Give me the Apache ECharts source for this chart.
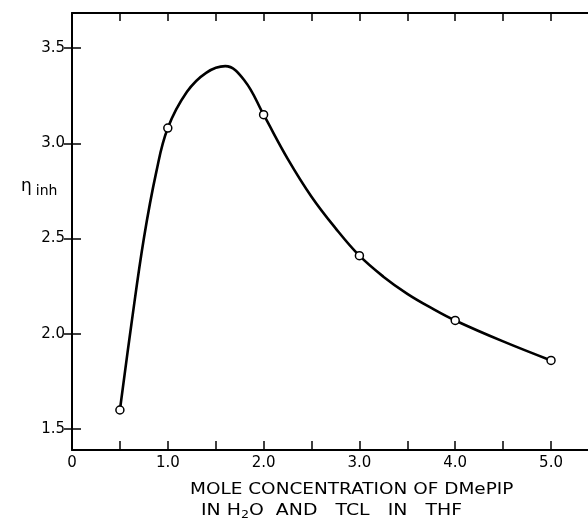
<!DOCTYPE html>
<html>
<head>
<meta charset="utf-8">
<script src="https://cdn.jsdelivr.net/npm/echarts@6/dist/echarts.min.js"></script>
<style>
html,body{margin:0;padding:0;background:#fff;}
#c{width:588px;height:521px;}
</style>
</head>
<body>
<div id="c"></div>
<script>
// measured points (open circles)
const pointX = [0.5, 1.0, 2.0, 3.0, 4.0, 5.0];
const pointY = [1.60, 3.08, 3.15, 2.41, 2.07, 1.86];
// drawn smooth curve
const curveX = [0.5, 0.62, 0.75, 0.88, 1.0, 1.2, 1.4, 1.6, 1.8, 2.0, 2.25, 2.5, 2.75, 3.0, 3.25, 3.5, 3.75, 4.0, 4.5, 5.0];
const curveY = [1.60, 2.05, 2.50, 2.85, 3.08, 3.27, 3.37, 3.405, 3.33, 3.15, 2.92, 2.72, 2.555, 2.41, 2.30, 2.21, 2.136, 2.07, 1.96, 1.86];
// axes
const xTicks = [0, 0.5, 1.0, 1.5, 2.0, 2.5, 3.0, 3.5, 4.0, 4.5, 5.0];
const xLabels = [0, 1, 2, 3, 4, 5];
const yTicks = [1.5, 2.0, 2.5, 3.0, 3.5];
const xRange = [0, 5.386];
const yRange = [1.39, 3.684];

const FONT = 'DejaVu Sans';
const chart = echarts.init(document.getElementById('c'), null, {renderer: 'canvas'});

const axisLine = {show: true, lineStyle: {color: '#000', width: 2}};
const tickStyle = {color: '#000', width: 1.5};

const option = {
  animation: false,
  backgroundColor: '#fff',
  grid: {left: 72, top: 13, right: 0, bottom: 71, containLabel: false},
  xAxis: [
    {
      type: 'value', position: 'bottom', min: xRange[0], max: xRange[1],
      axisLine: axisLine,
      axisTick: {show: true, inside: true, length: 9, customValues: xTicks, lineStyle: tickStyle},
      axisLabel: {show: true, customValues: xLabels, margin: 6, color: '#000', fontFamily: FONT, fontSize: 15,
        formatter: v => v === 0 ? '0' : v.toFixed(1)},
      splitLine: {show: false}
    },
    {
      type: 'value', position: 'top', min: xRange[0], max: xRange[1],
      axisLine: axisLine,
      axisTick: {show: true, inside: true, length: 8, customValues: xTicks, lineStyle: tickStyle},
      axisLabel: {show: false},
      splitLine: {show: false}
    }
  ],
  yAxis: [
    {
      type: 'value', position: 'left', min: yRange[0], max: yRange[1],
      axisLine: axisLine,
      axisTick: {show: true, inside: true, length: 9, customValues: yTicks, lineStyle: tickStyle},
      axisLabel: {show: true, customValues: yTicks, margin: 7, color: '#000', fontFamily: FONT, fontSize: 15,
        formatter: v => v.toFixed(1)},
      splitLine: {show: false}
    },
    {
      type: 'value', position: 'right', min: yRange[0], max: yRange[1],
      axisLine: {show: false},
      axisTick: {show: true, inside: true, length: 8, customValues: yTicks, lineStyle: tickStyle},
      axisLabel: {show: false},
      splitLine: {show: false}
    }
  ],
  series: [
    {
      type: 'line', smooth: 0.4, showSymbol: false, silent: true,
      data: curveX.map((x, i) => [x, curveY[i]]),
      lineStyle: {color: '#000', width: 2.6},
      z: 2
    },
    {
      type: 'scatter', symbol: 'circle', symbolSize: 8, silent: true,
      data: pointX.map((x, i) => [x, pointY[i]]),
      itemStyle: {color: '#fff', borderColor: '#000', borderWidth: 1.5, opacity: 1},
      z: 3
    }
  ],
  graphic: [
    {
      type: 'text', left: 21, top: 178,
      style: {
        text: '{eta|η}{sub|inh}',
        rich: {
          eta: {fontFamily: FONT, fontSize: 17, fill: '#000'},
          sub: {fontFamily: FONT, fontSize: 14, fill: '#000', padding: [10, 0, 0, 4]}
        }
      }
    },
    {
      type: 'text', x: 190, y: 490, scaleX: 1.23,
      style: {
        text: 'MOLE CONCENTRATION OF DMePIP',
        font: '15px "DejaVu Sans"', fill: '#000', verticalAlign: 'middle', align: 'left'
      }
    },
    {
      type: 'text', x: 201, y: 511, scaleX: 1.26,
      style: {
        text: '{t|IN H}{s|2}{t|O  AND   TCL   IN   THF}',
        verticalAlign: 'middle', align: 'left',
        rich: {
          t: {fontFamily: FONT, fontSize: 15, fill: '#000'},
          s: {fontFamily: FONT, fontSize: 10, fill: '#000', padding: [8, 0, 0, 0]}
        }
      }
    }
  ]
};
chart.setOption(option);
</script>
</body>
</html>
